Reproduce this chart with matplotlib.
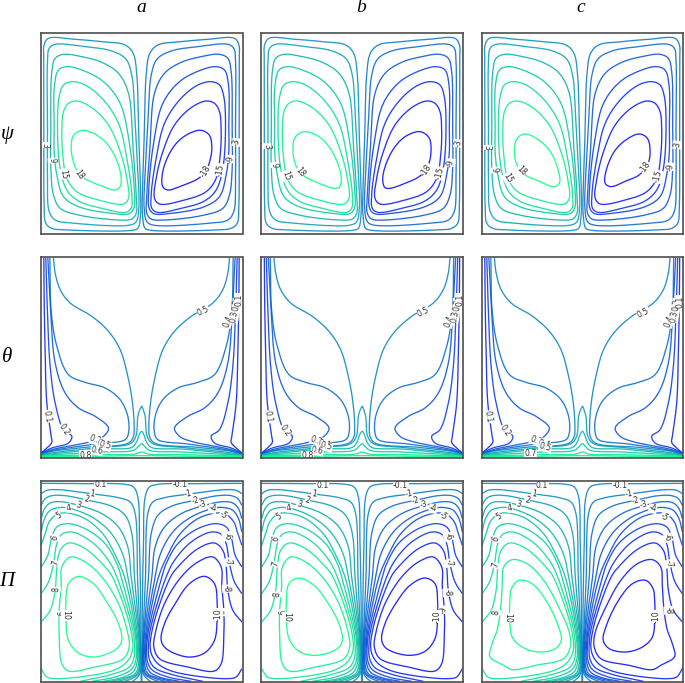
import numpy as np
import matplotlib
matplotlib.use("Agg")
import matplotlib.pyplot as plt
from matplotlib.colors import Normalize

# ---------- data: contour paths on a 0..600 cell grid ----------
PSI_LEVELS = [1.5, 4, 7, 10, 13, 15.5]
PSI_PATHS = [
 [(8,315),(8,516),(9,566),(22,585),(102,582),(182,575),(252,565),(276,540),(287,474),(292,315),(297,165),(298,55),(290,15),(272,9),(82,10),(32,15),(14,30),(9,84),(8,216)],
 [(19,315),(19,516),(24,555),(42,567),(132,560),(212,547),(254,523),(272,474),(280,366),(288,216),(293,75),(285,35),(267,25),(102,30),(42,40),(24,66),(19,165)],
 [(29,315),(32,485),(42,525),(67,537),(122,530),(182,513),(232,480),(262,420),(275,265),(285,115),(285,60),(272,43),(232,40),(112,55),(57,75),(37,115),(29,195)],
 [(39,315),(40,445),(52,490),(77,500),(122,490),(187,455),(237,390),(264,275),(279,135),(278,75),(264,59),(212,60),(112,80),(67,110),(47,175),(39,245)],
 [(49,315),(54,410),(67,445),(92,455),(132,445),(187,400),(232,330),(257,225),(272,115),(270,75),(254,63),(182,75),(112,97),(77,130),(57,195)],
 [(62,306),(67,365),(82,390),(107,397),(152,377),(202,325),(237,245),(257,165),(262,105),(247,88),(172,100),(107,125),(77,165),(65,234)],
]
PSI_CORE_LEVEL = 18
PSI_CORES = [
 [(90,255),(97,294),(122,309),(157,300),(192,275),(222,230),(239,175),(237,140),(222,130),(182,142),(127,167),(104,195),(94,225)],
 [(94,245),(100,287),(127,305),(167,293),(202,260),(230,205),(239,160),(232,137),(217,135),(172,150),(127,172),(104,200)],
 [(97,240),(105,285),(130,298),(170,280),(205,245),(230,185),(232,150),(215,140),(170,157),(130,175),(105,205)],
]
THETA_LEVELS = [0.1, 0.2, 0.3, 0.4, 0.5]
THETA_PATHS = [
 [(8,598),(9,473),(12,313),(17,163),(30,63),(32,45),(17,28),(0,13)],
 [(14,598),(19,433),(27,273),(42,163),(67,83),(92,63),(82,43),(32,28),(0,13)],
 [(20,598),(27,463),(42,283),(72,193),(112,148),(162,123),(202,88),(187,63),(152,48),(32,23),(0,11)],
 [(26,598),(30,440),(47,333),(82,248),(132,225),(192,208),(237,173),(260,123),(262,73),(252,53),(162,40),(32,20),(0,10)],
 [(37,598),(42,553),(57,503),(87,463),(152,423),(202,378),(237,323),(260,243),(274,163),(279,93),(277,63),(262,43),(132,30),(32,18),(0,9)],
]
THETA_ARCH_LEVELS = [0.6, 0.7, 0.8, 0.9, 0.95]
THETA_ARCHES = [
 [(0,8),(42,15),(182,30),(267,41),(284,63),(290,123),(296,143),(302,153)],
 [(0,7),(182,25),(272,30),(287,48),(294,68),(302,78)],
 [(0,6),(182,16),(277,21),(292,33),(302,41)],
 [(0,4),(182,8),(282,10),(302,16)],
 [(0,2),(150,3),(302,5)],
]
PI_OPEN_LEVELS = [0.1, 1, 2, 3, 4, 5, 6, 7, 8]
PI_OPEN = [
 [(0,594),(132,593),(252,591),(277,583),(290,553),(295,413),(298,263),(299,163),(300,0)],
 [(0,563),(17,573),(52,575),(147,563),(232,551),(267,538),(282,503),(289,313),(296,163),(298,113),(299,53),(296,23),(285,8),(274,0)],
 [(0,528),(12,548),(32,557),(72,557),(132,545),(212,525),(252,498),(272,443),(280,313),(293,163),(296,113),(297,53),(292,23),(272,8),(250,0)],
 [(0,488),(10,518),(27,535),(57,539),(112,528),(182,503),(232,463),(260,403),(270,313),(290,163),(294,113),(295,53),(288,23),(262,9),(230,0)],
 [(0,448),(10,488),(27,513),(52,521),(82,520),(152,493),(207,448),(244,383),(260,313),(286,163),(291,113),(292,53),(282,23),(252,10),(210,0)],
 [(0,408),(12,443),(24,478),(47,501),(77,505),(132,488),(187,440),(225,373),(250,313),(282,163),(288,113),(288,58),(276,28),(242,11),(187,0)],
 [(0,343),(20,378),(32,433),(47,463),(77,473),(132,458),(192,413),(227,353),(240,313),(278,163),(285,113),(284,63),(270,35),(222,13),(152,0)],
 [(0,263),(22,298),(37,353),(47,413),(62,441),(92,448),(152,418),(202,363),(227,313),(273,163),(280,113),(278,68),(262,41),(212,21),(117,0)],
 [(0,178),(27,213),(42,273),(47,343),(57,393),(82,415),(132,398),(192,343),(214,313),(267,163),(274,93),(257,58),(222,35),(152,18),(42,8),(17,13),(0,38)],
]
PI_9 = [
 [(60,283),(62,343),(87,373),(132,358),(182,313),(232,233),(260,143),(264,103),(247,68),(162,43),(82,31),(62,53),(54,133),(54,213)],
 [(60,283),(62,343),(87,373),(132,358),(182,313),(232,233),(260,143),(264,103),(247,68),(162,43),(82,31),(62,53),(54,133),(54,213)],
 [(60,283),(65,343),(90,365),(135,353),(185,303),(230,223),(263,143),(265,103),(245,68),(160,48),(90,35),(65,48),(28,68),(22,78),(30,113),(45,153),(55,213)],
]
PI_10 = [
 [(74,233),(82,293),(112,315),(157,293),(197,238),(232,173),(242,123),(227,98),(162,73),(112,85),(82,123),(74,193)],
 [(74,233),(82,293),(112,310),(157,288),(197,238),(232,173),(242,123),(227,98),(162,78),(112,90),(82,128),(74,193)],
 [(83,238),(88,278),(110,303),(150,293),(195,238),(230,163),(238,123),(220,98),(170,88),(120,103),(90,133),(83,193)],
]

PSI_LABELS = [
 [("3",12,265,-90),("9",34,218,-85),("15",67,178,-80),("18",112,175,-55),("-3",587,273,85),("-9",567,223,85),("-15",537,190,80),("-18",492,185,60)],
 [("3",15,262,-90),("9",37,205,-85),("15",72,172,-70),("18",115,183,-50),("-3",589,270,85),("-9",567,212,85),("-15",534,180,75),("-18",495,190,55)],
 [("3",15,257,-90),("9",38,190,-80),("15",77,165,-60),("18",117,188,-45),("-3",587,265,85),("-9",565,200,85),("-15",528,170,75),("-18",490,197,55)],
]
THETA_LABELS = [
 [("0.1",19,123,-80),("0.2",70,83,-55),("0.3",162,53,-20),("0.4",185,40,-15),("0.5",192,35,-15),("0.6",167,21,-10),("0.8",134,7,0),("0.5",485,440,25),("0.4",560,408,70),("0.3",579,423,80),("0.2",587,458,85),("0.1",594,473,90)],
 [("0.1",19,121,-80),("0.2",70,80,-55),("0.3",164,51,-20),("0.4",187,38,-15),("0.5",194,33,-15),("0.6",167,20,-10),("0.8",137,6,0),("0.5",485,436,25),("0.4",562,408,70),("0.3",579,423,80),("0.2",587,458,85),("0.1",595,473,90)],
 [("0.1",18,121,-80),("0.2",70,80,-55),("0.3",162,51,-20),("0.4",185,40,-15),("0.5",190,31,-15),("0.7",145,11,0),("0.5",485,433,25),("0.4",562,408,70),("0.3",577,423,80),("0.2",585,458,85),("0.1",595,468,90)],
]
PI_LABELS = [
 [("0.1",179,591,0),("1",154,563,-10),("2",135,545,-15),("3",112,528,-15),("4",82,521,10),("5",52,498,35),("6",42,431,70),("7",42,355,75),("8",44,275,85),("9",52,203,-85),("10",74,198,-90),
  ("-0.1",417,591,0),("-1",442,563,10),("-2",462,543,15),("-3",485,530,15),("-4",514,518,-10),("-5",545,498,-35),("-6",558,435,-70),("-7",560,358,-75),("-8",557,278,-85),("-9",545,208,85),("-10",530,201,90)],
 [("0.1",182,588,0),("1",157,563,-10),("2",137,543,-15),("3",112,530,-15),("4",82,521,10),("5",52,495,35),("6",42,428,70),("7",42,351,75),("8",47,261,85),("9",54,208,-85),("10",75,193,-90),
  ("-0.1",417,588,0),("-1",442,561,10),("-2",462,543,15),("-3",485,530,15),("-4",514,518,-10),("-5",545,495,-35),("-6",560,433,-70),("-7",562,355,-75),("-8",557,266,-85),("-9",545,215,85),("-10",527,195,90)],
 [("0.1",180,588,0),("1",155,563,-10),("2",135,543,-15),("3",110,530,-15),("4",83,520,10),("5",50,493,35),("6",42,426,70),("7",40,348,75),("8",42,206,85),("10",78,190,-90),
  ("-0.1",415,588,0),("-1",442,561,10),("-2",462,543,15),("-3",485,530,15),("-4",513,518,-10),("-5",547,493,-35),("-6",558,430,-70),("-7",562,353,-75),("-8",560,213,-85),("-10",523,195,90)],
]
COLUMN_TITLES = ["a", "b", "c"]
ROW_TITLES = ["\u03c8", "\u03b8", "\u03a0"]

# ---------- layout ----------
W, H = 685, 683
COL_PX = [(40.5, 242.5), (261, 463), (481.5, 683)]
ROW_PX = [(33, 234), (257, 458), (481, 682)]
XLIM = (-2, 604)
YLIM = (-2, 601)
MIRROR = 301
cmap = plt.get_cmap("winter")
LW = 0.95
ALPHA = 0.85


def smooth(points, closed=False, n=14):
    """Centripetal Catmull-Rom curve through the traced points."""
    p = np.asarray(points, float)
    if closed:
        p = np.vstack([p[-1], p, p[0], p[1]])
    else:
        p = np.vstack([2 * p[0] - p[1], p, 2 * p[-1] - p[-2]])
    out = []
    for i in range(len(p) - 3):
        p0, p1, p2, p3 = p[i:i + 4]
        t0 = 0.0
        t1 = t0 + np.linalg.norm(p1 - p0) ** 0.5 + 1e-6
        t2 = t1 + np.linalg.norm(p2 - p1) ** 0.5 + 1e-6
        t3 = t2 + np.linalg.norm(p3 - p2) ** 0.5 + 1e-6
        t = np.linspace(t1, t2, n, endpoint=False)[:, None]
        a1 = (t1 - t) / (t1 - t0) * p0 + (t - t0) / (t1 - t0) * p1
        a2 = (t2 - t) / (t2 - t1) * p1 + (t - t1) / (t2 - t1) * p2
        a3 = (t3 - t) / (t3 - t2) * p2 + (t - t2) / (t3 - t2) * p3
        b1 = (t2 - t) / (t2 - t0) * a1 + (t - t0) / (t2 - t0) * a2
        b2 = (t3 - t) / (t3 - t1) * a2 + (t - t1) / (t3 - t1) * a3
        out.append((t2 - t) / (t2 - t1) * b1 + (t - t1) / (t2 - t1) * b2)
    out.append(p[-2][None, :])
    return np.vstack(out)


def mirror(curve):
    c = curve.copy()
    c[:, 0] = 2 * MIRROR - c[:, 0]
    return c


def draw_pair(ax, points, level, norm, closed=False, antisym=True):
    c = smooth(points, closed)
    m = mirror(c)
    lv = -level if antisym else level
    ax.plot(c[:, 0], c[:, 1], color=cmap(norm(level)), lw=LW, alpha=ALPHA, solid_capstyle="butt", zorder=2)
    ax.plot(m[:, 0], m[:, 1], color=cmap(norm(lv)), lw=LW, alpha=ALPHA, solid_capstyle="butt", zorder=2)


def draw_labels(ax, labels):
    for txt, x, y, rot in labels:
        ax.text(x, y, txt, rotation=rot, rotation_mode="anchor", ha="center", va="center",
                fontsize=5.6, color="#333333", family="DejaVu Sans", zorder=2.3,
                bbox=dict(fc="white", ec="none", pad=0.2))


fig = plt.figure(figsize=(W / 100, H / 100), dpi=100)
fig.patch.set_facecolor("white")

for r, (top, bot) in enumerate(ROW_PX):
    for c, (left, right) in enumerate(COL_PX):
        ax = fig.add_axes([left / W, 1 - bot / H, (right - left) / W, (bot - top) / H])
        ax.set_xlim(*XLIM)
        ax.set_ylim(*YLIM)
        ax.set_xticks([])
        ax.set_yticks([])
        for s in ax.spines.values():
            s.set_color("#4d4d4d")
            s.set_linewidth(1.2)
            s.set_zorder(3)
        if r == 0:
            norm = Normalize(-18, 18)
            for lv, pts in zip(PSI_LEVELS, PSI_PATHS):
                draw_pair(ax, pts, lv, norm, closed=True)
            draw_pair(ax, PSI_CORES[c], PSI_CORE_LEVEL, norm, closed=True)
            draw_labels(ax, PSI_LABELS[c])
        elif r == 1:
            norm = Normalize(0, 1)
            for lv, pts in zip(THETA_LEVELS, THETA_PATHS):
                draw_pair(ax, pts, lv, norm, antisym=False)
            for lv, pts in zip(THETA_ARCH_LEVELS, THETA_ARCHES):
                full = list(pts) + [(2 * MIRROR - x, y) for x, y in reversed(pts[:-1])]
                cv = smooth(full)
                ax.plot(cv[:, 0], cv[:, 1], color=cmap(norm(lv)), lw=LW, alpha=ALPHA, zorder=2)
            draw_labels(ax, THETA_LABELS[c])
        else:
            norm = Normalize(-10, 10)
            for lv, pts in zip(PI_OPEN_LEVELS, PI_OPEN):
                draw_pair(ax, pts, lv, norm)
            draw_pair(ax, PI_9[c], 9, norm, closed=True)
            draw_pair(ax, PI_10[c], 10, norm, closed=True)
            draw_labels(ax, PI_LABELS[c])

for txt, x in zip(COLUMN_TITLES, [141, 361, 581]):
    fig.text(x / W, 1 - 8 / H, txt, ha="center", va="center", fontsize=14,
             family="Liberation Serif", style="italic")
for txt, y in zip(ROW_TITLES, [135, 357, 581]):
    fig.text(7 / W, 1 - y / H, txt, ha="center", va="center", fontsize=15,
             family="Liberation Serif", style="italic")

fig.savefig("out.png", dpi=100)
